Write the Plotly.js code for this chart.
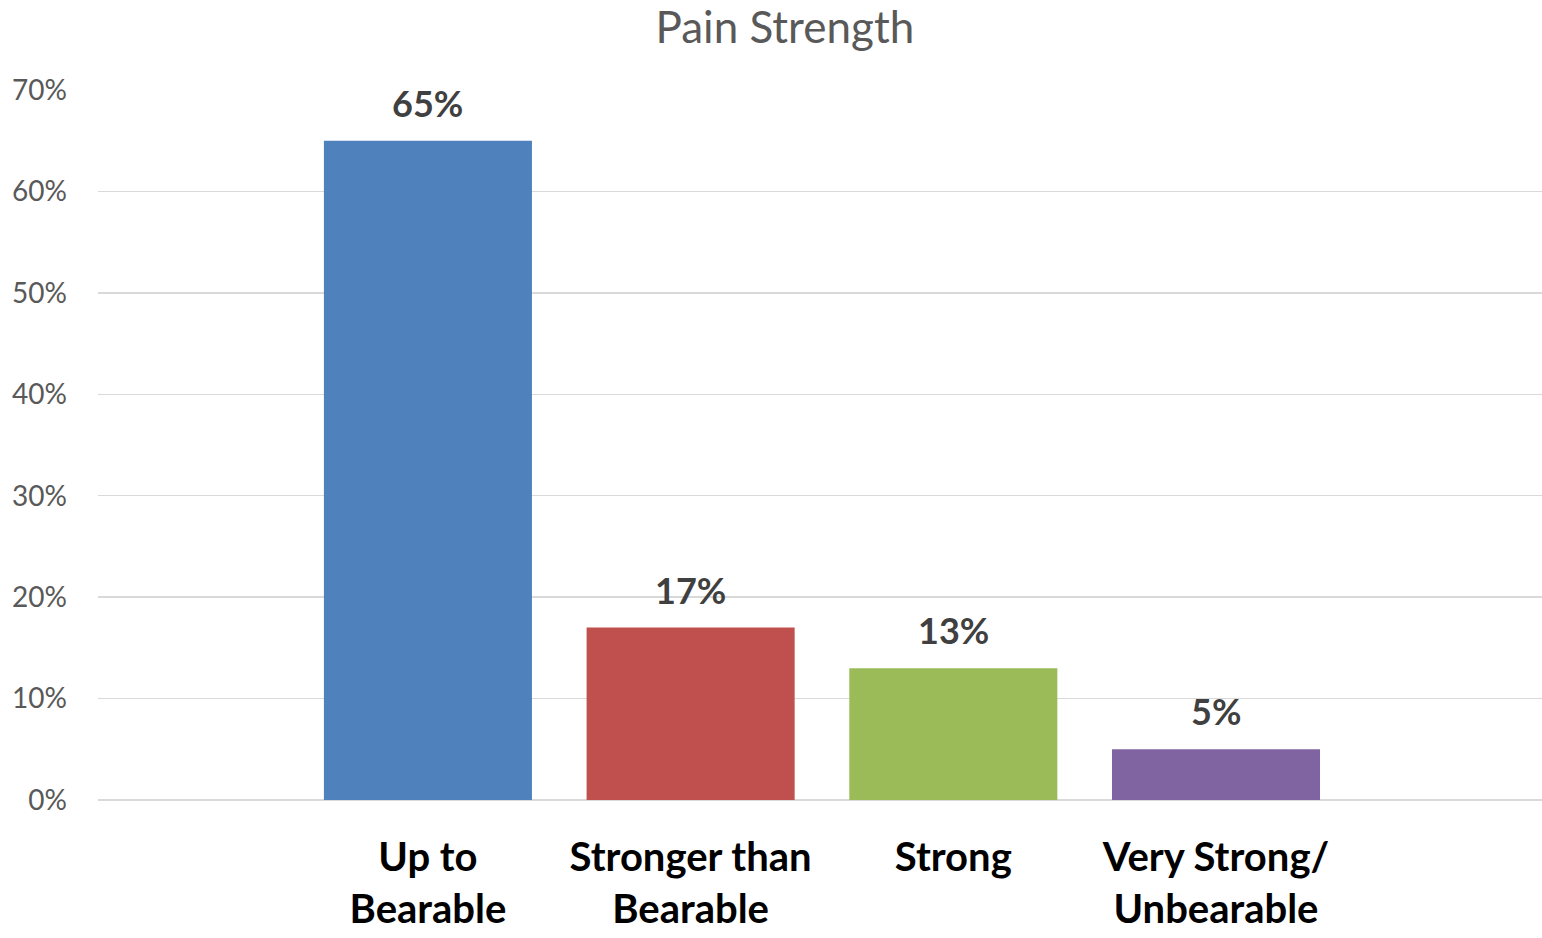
<!DOCTYPE html>
<html>
<head>
<meta charset="utf-8">
<script src="https://cdn.plot.ly/plotly-3.0.1.min.js"></script>
<style>html,body{margin:0;padding:0;background:#fff;}#chart{width:1542px;height:938px;}</style>
</head>
<body>
<div id="chart"></div>
<script>
const categories = ["Up to<br>Bearable", "Stronger than<br>Bearable", "Strong", "Very Strong/<br>Unbearable"];
const values = [65, 17, 13, 5];
const barColors = ["#4f81bd", "#c0504d", "#9bbb59", "#8064a2"];
const yTickVals = [0, 10, 20, 30, 40, 50, 60, 70];
const yTickText = ["0%", "10%", "20%", "30%", "40%", "50%", "60%", "70%"];

const trace = {
  type: "bar",
  x: categories,
  y: values,
  marker: {color: barColors},
  hoverinfo: "none"
};

const annotations = categories.map((c, i) => ({
  x: c, y: values[i], xref: "x", yref: "y",
  text: values[i] + "%",
  showarrow: false,
  yanchor: "bottom",
  yshift: 14,
  font: {family: "Lato, sans-serif", size: 36, color: "#404040", weight: "bold"}
}));

const layout = {
  width: 1542, height: 938,
  margin: {l: 98, r: 0, t: 90, b: 138},
  paper_bgcolor: "#ffffff",
  plot_bgcolor: "#ffffff",
  showlegend: false,
  bargap: 0.208,
  title: {
    text: "Pain Strength",
    x: 0.509, xanchor: "center",
    y: 0.971, yanchor: "middle", yref: "container",
    font: {family: "Lato, sans-serif", size: 44, color: "#595959"}
  },
  xaxis: {
    type: "category",
    range: [-1.256, 4.241],
    showgrid: false,
    zeroline: false,
    showline: false,
    ticks: "",
    ticklabelstandoff: 30,
    tickfont: {family: "Lato, sans-serif", size: 40, color: "#000000", weight: "bold"}
  },
  yaxis: {
    range: [0, 70],
    tickmode: "array",
    tickvals: yTickVals,
    ticktext: yTickText,
    showgrid: true,
    gridcolor: "#d9d9d9",
    gridwidth: 1.5,
    zeroline: true,
    zerolinecolor: "#d9d9d9",
    zerolinewidth: 1.5,
    showline: false,
    ticks: "",
    ticklabelstandoff: 30,
    tickfont: {family: "Lato, sans-serif", size: 28, color: "#595959"}
  },
  annotations: annotations
};

Plotly.newPlot("chart", [trace], layout, {displayModeBar: false, staticPlot: true});
</script>
</body>
</html>
